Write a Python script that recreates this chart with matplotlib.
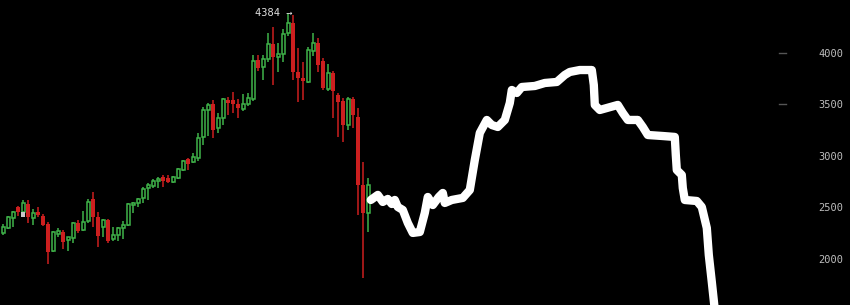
import matplotlib
matplotlib.use("Agg")
import matplotlib.pyplot as plt
import numpy as np

# daily candles
opens = [2250, 2298, 2395, 2502, 2454, 2531, 2395, 2454, 2415, 2337,
         2075, 2240, 2259, 2182, 2201, 2347, 2279, 2366, 2580, 2405,
         2308, 2376, 2191, 2230, 2298, 2327, 2521, 2541, 2590, 2686,
         2706, 2755, 2793, 2784, 2745, 2784, 2861, 2968, 2939, 2978,
         3182, 3444, 3502, 3269, 3366, 3541, 3541, 3502, 3454, 3502,
         3551, 3929, 3861, 3939, 4085, 3959, 3988, 4192, 4289, 3813,
         3755, 3716, 4017, 4094, 3920, 3648, 3803, 3590, 3531, 3298,
         3551, 3376, 2716, 2444]
closes = [2308, 2405, 2454, 2454, 2541, 2405, 2444, 2424, 2327, 2065,
          2259, 2269, 2162, 2211, 2347, 2269, 2356, 2551, 2405, 2220,
          2376, 2172, 2230, 2298, 2327, 2531, 2541, 2580, 2677, 2716,
          2755, 2774, 2755, 2745, 2793, 2871, 2949, 2920, 2988, 3172,
          3444, 3493, 3250, 3366, 3551, 3512, 3502, 3463, 3502, 3560,
          3920, 3852, 3939, 4085, 3959, 3988, 4182, 4289, 3813, 3755,
          3726, 4027, 4094, 3881, 3658, 3803, 3628, 3522, 3298, 3551,
          3395, 2716, 2444, 2716]
highs = [2337, 2415, 2463, 2512, 2570, 2570, 2483, 2502, 2434, 2356,
         2265, 2298, 2279, 2215, 2356, 2376, 2463, 2580, 2648, 2454,
         2386, 2386, 2308, 2308, 2366, 2541, 2551, 2590, 2696, 2735,
         2774, 2793, 2813, 2813, 2803, 2881, 2958, 2978, 3026, 3221,
         3473, 3512, 3541, 3415, 3560, 3570, 3619, 3551, 3599, 3609,
         3978, 3978, 3978, 4192, 4250, 4094, 4230, 4384, 4370, 4046,
         3910, 4056, 4192, 4143, 3949, 3891, 3823, 3609, 3560, 3570,
         3570, 3463, 2939, 2784]
lows = [2230, 2289, 2308, 2415, 2405, 2347, 2327, 2405, 2320, 1949,
        2065, 2211, 2094, 2075, 2153, 2250, 2269, 2347, 2308, 2114,
        2211, 2153, 2172, 2172, 2191, 2318, 2444, 2502, 2541, 2570,
        2686, 2686, 2696, 2735, 2735, 2774, 2852, 2861, 2929, 2949,
        3104, 3192, 3172, 3221, 3298, 3395, 3415, 3366, 3434, 3483,
        3531, 3823, 3735, 3910, 3687, 3813, 3910, 4162, 3735, 3522,
        3541, 3706, 3968, 3813, 3638, 3628, 3366, 3182, 3133, 3250,
        3269, 2424, 1813, 2259]

# hand drawn "prediction" scribble
line_day = [73.5, 74.9, 75.9, 76.9, 77.7, 78.3, 78.9, 79.9, 80.9, 81.9,
            83.3, 84.3, 84.9, 85.9, 87.1, 87.9, 88.3, 89.7, 91.9, 93.3,
            94.3, 95.3, 96.7, 97.7, 98.9, 100.3, 101.3, 101.7, 102.7, 103.7,
            106.3, 108.3, 110.7, 112.3, 113.3, 115.3, 117.7, 118.1, 118.3, 119.3,
            120.7, 122.9, 123.9, 124.9, 126.9, 127.9, 128.9, 131.9, 134.3, 134.5,
            134.7, 135.7, 135.9, 136.3, 138.7, 139.7, 140.7, 141.1, 141.7, 142.3]
line_price = [2570, 2619, 2551, 2580, 2531, 2570, 2502, 2473, 2347, 2250,
              2259, 2444, 2599, 2521, 2599, 2638, 2541, 2570, 2590, 2667,
              2958, 3221, 3347, 3298, 3279, 3347, 3512, 3638, 3609, 3667,
              3677, 3706, 3716, 3784, 3813, 3832, 3832, 3687, 3493, 3444,
              3463, 3493, 3415, 3347, 3347, 3279, 3201, 3191, 3182, 3007,
              2861, 2813, 2686, 2570, 2560, 2502, 2298, 2036, 1774, 1502]

price_ticks = [2000, 2500, 3000, 3500, 4000]
marked_ticks = [3500, 4000]
top_price = 4384
top_day = 57

green = '#3fb34a'
red = '#cc1f1f'

fig = plt.figure(figsize=(8.5, 3.05), dpi=100, facecolor='black')
ax = fig.add_axes([0, 0, 1, 1])
ax.set_facecolor('black')

o = np.array(opens)
c = np.array(closes)
h = np.array(highs)
l = np.array(lows)
days = np.arange(len(o))
up = c >= o

ax.vlines(days[up], l[up], h[up], color=green, lw=1.1)
ax.vlines(days[~up], l[~up], h[~up], color=red, lw=1.1)
bot = np.minimum(o, c)
ht = np.maximum(np.abs(c - o), 18)
ax.bar(days[up], ht[up], bottom=bot[up], width=0.7, facecolor='black',
       edgecolor=green, lw=1.1, zorder=3)
ax.bar(days[~up], ht[~up], bottom=bot[~up], width=0.75, color=red, zorder=3)

# little grey marker box on day 4
ax.bar([4], [50], bottom=[2400], width=0.8, color='#c8c8c8', zorder=4)

ax.plot(line_day, line_price, color='white', lw=6,
        solid_capstyle='round', solid_joinstyle='round', zorder=5)

ax.annotate('4384 →', xy=(top_day, top_price), xytext=(3, 0),
            textcoords='offset points', ha='right', va='center',
            color='#e0e0e0', fontsize=7.5, family='DejaVu Sans Mono')

for t in marked_ticks:
    ax.plot([0.916, 0.925], [t, t], transform=ax.get_yaxis_transform(),
            color='#555555', lw=1)

ax.set_xlim(-0.66, 169.34)
ax.set_ylim(1550, 4512)
ax.set_xticks([])
ax.set_yticks(price_ticks)
ax.yaxis.tick_right()
ax.tick_params(axis='y', length=0, pad=-5, labelsize=7.5, labelcolor='#bdbdbd')
for lab in ax.get_yticklabels():
    lab.set_ha('right')
    lab.set_family('DejaVu Sans Mono')
for s in ax.spines.values():
    s.set_visible(False)

fig.savefig('out.png', dpi=100, facecolor='black')
